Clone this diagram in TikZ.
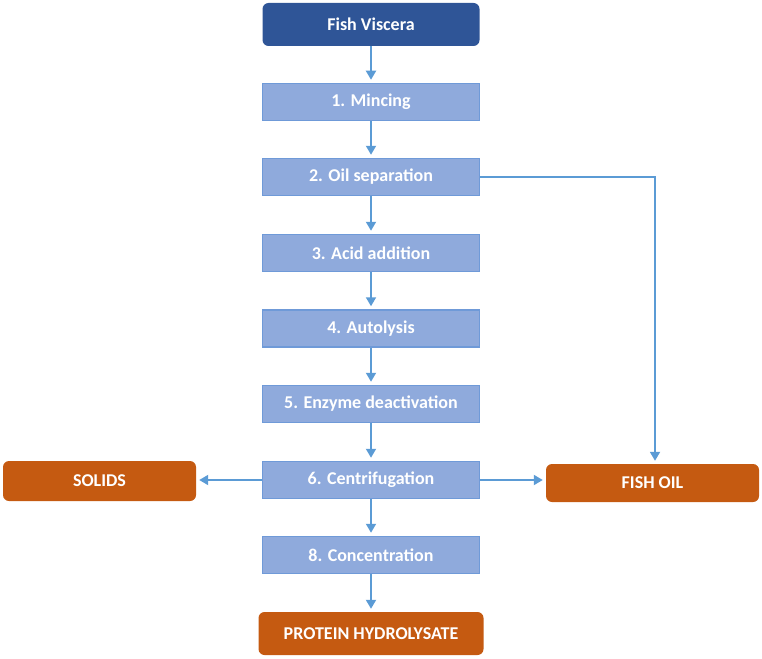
\documentclass[tikz,border=0pt]{standalone}
\usepackage{fontspec}
\setmainfont{Carlito}
\usetikzlibrary{arrows.meta}

\definecolor{startblue}{HTML}{2F5597}
\definecolor{stepfill}{HTML}{8FAADC}
\definecolor{stepline}{HTML}{6F9AD8}
\definecolor{outorange}{HTML}{C55A11}
\definecolor{flowline}{HTML}{5B9BD5}

\tikzset{
    boxfont/.style={text=white, font=\fontsize{18}{21}\selectfont\bfseries},
    startbox/.style={boxfont, fill=startblue, rounded corners=6pt, minimum width=217pt, minimum height=43pt},
    stepbox/.style={boxfont, fill=stepfill, draw=stepline, line width=1.5pt, minimum width=217pt, minimum height=37pt},
    outbox/.style={boxfont, fill=outorange, rounded corners=6pt},
    flow/.style={draw=flowline, line width=1.8pt, -{Triangle[length=9pt,width=10pt]}, shorten >=3pt}
}

\begin{document}
\begin{tikzpicture}[x=1pt,y=-1pt]
        \useasboundingbox (0,0) rectangle (762,658);

        \node[startbox] (viscera) at (371, 24.5){Fish Viscera};

        \foreach \n/\t/\y in {mince/1. Mincing/102, oilsep/2. Oil separation/177,
                              acid/3. Acid addition/253, auto/4. Autolysis/328.5,
                              enzyme/5. Enzyme deactivation/404, centri/6. Centrifugation/480,
                              conc/8. Concentration/555}
            {
                \node[stepbox] (\n) at (371, \y){\t};
            }

        \node[outbox, minimum width=225pt, minimum height=43pt] (protein) at (371, 633.5){PROTEIN HYDROLYSATE};
        \node[outbox, minimum width=193pt, minimum height=40pt] (solids) at (99.5, 481){SOLIDS};
        \node[outbox, minimum width=213pt, minimum height=38pt] (fishoil) at (652.5, 483){FISH OIL};

        \draw[flow] (viscera) -- (mince);
        \draw[flow] (mince) -- (oilsep);
        \draw[flow] (oilsep) -- (acid);
        \draw[flow] (acid) -- (auto);
        \draw[flow] (auto) -- (enzyme);
        \draw[flow] (enzyme) -- (centri);
        \draw[flow] (centri) -- (conc);
        \draw[flow] (conc) -- (protein);

        \draw[flow] (centri.west) -- (solids.east |- centri.west);
        \draw[flow] (centri.east) -- (fishoil.west |- centri.east);
        \draw[flow] (oilsep.east) -| ([xshift=2.5pt]fishoil.north);
    \end{tikzpicture}
\end{document}
